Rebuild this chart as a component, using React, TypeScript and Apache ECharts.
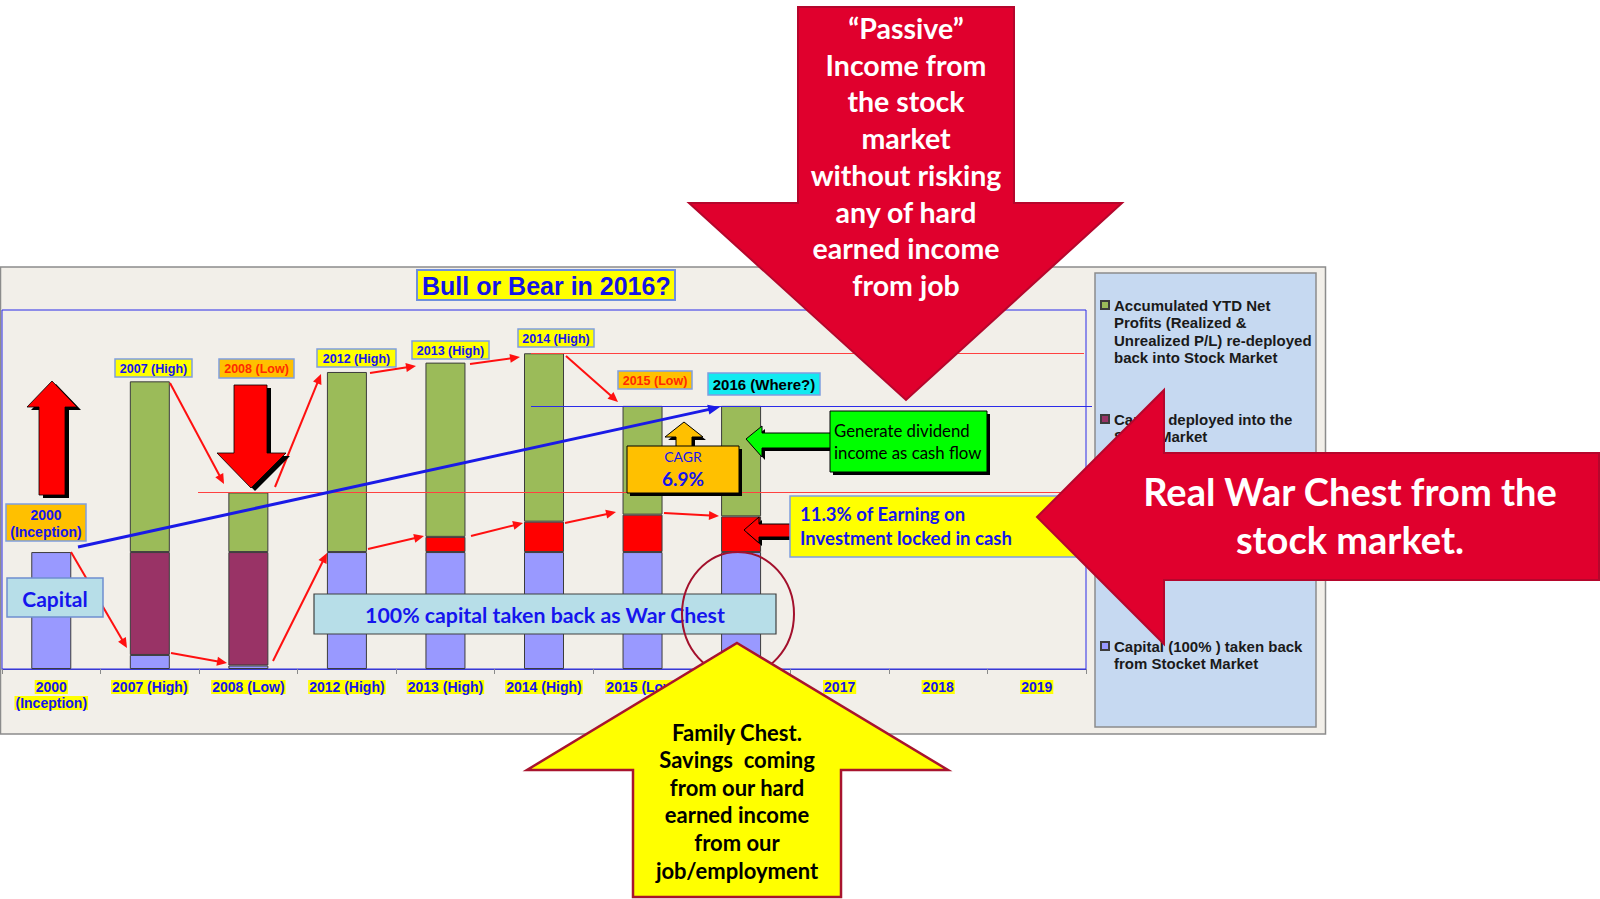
import React, { useEffect, useRef } from "react";
import * as echarts from "echarts";

// ---------------- data ----------------
const categories = [
  "2000\n(Inception)",
  "2007 (High)",
  "2008 (Low)",
  "2012 (High)",
  "2013 (High)",
  "2014 (High)",
  "2015 (Low)",
  "2016 (Where?)",
  "2017",
  "2018",
  "2019",
];
// values in % of initial capital
const capitalTakenBack = [100, 12, 3, 100, 100, 100, 100, 100, null, null, null];
const capitalDeployed = [null, 88, 97, null, null, null, null, null, null, null, null];
const cashLocked = [null, null, null, null, 13, 26, 32, 30.5, null, null, null];
const netProfits = [null, 146, 51, 154, 149, 144, 93, 94.5, null, null, null];

const nameGreen = "Accumulated YTD Net Profits (Realized & Unrealized P/L) re-deployed back into Stock Market";
const nameMaroon = "Capital deployed into the Stock Market";
const nameRed = "Earning on Investment locked in cash";
const nameBlue = "Capital (100% ) taken back from Stocket Market";

const legendLines: Record<string, string> = {
  [nameGreen]: "Accumulated YTD Net\nProfits (Realized &\nUnrealized P/L) re-deployed\nback into Stock Market",
  [nameMaroon]: "Capital deployed into the\nStock Market",
  [nameBlue]: "Capital (100% ) taken back\nfrom Stocket Market",
};

const titleText = "Bull or Bear in 2016?";
const cagrText = "6.9%";

// ---------------- helpers ----------------
const FA = '"Liberation Sans", Arial, sans-serif';
const FC = 'Lato, "Open Sans", sans-serif';
const BLUE_TXT = "#1515EE";
const Z_ANN = 10;
const Z_BIG = 20;
const LEG_LH = 17.5;

function arrowLine(x1: number, y1: number, x2: number, y2: number, color: string, w: number, hl: number, hw: number) {
  const dx = x2 - x1, dy = y2 - y1;
  const L = Math.hypot(dx, dy);
  const ux = dx / L, uy = dy / L;
  const bx = x2 - ux * hl, by = y2 - uy * hl;
  return [
    { type: "line", z: Z_ANN, silent: true, shape: { x1, y1, x2: bx + ux * 1, y2: by + uy * 1 }, style: { stroke: color, lineWidth: w } },
    {
      type: "polygon", z: Z_ANN, silent: true,
      shape: { points: [[x2, y2], [bx - uy * hw, by + ux * hw], [bx + uy * hw, by - ux * hw]] },
      style: { fill: color },
    },
  ];
}

function boxText(x: number, y: number, w: number, h: number, text: string, fill: string, stroke: string, color: string, font: { size: number; weight?: string; family?: string; lh?: number }, sw = 1.5) {
  return [
    { type: "rect", z: Z_ANN, silent: true, shape: { x, y, width: w, height: h }, style: { fill, stroke, lineWidth: sw } },
    {
      type: "text", z: Z_ANN, silent: true, x: x + w / 2, y: y + h / 2 + 0.5,
      style: {
        text, fill: color, fontSize: font.size, fontWeight: font.weight || "bold", fontFamily: font.family || FA,
        lineHeight: font.lh || font.size + 2, align: "center", verticalAlign: "middle",
      },
    },
  ];
}

function poly(points: number[][], fill: string, stroke: string, lw: number, z: number, shadow?: number[]) {
  const els: any[] = [];
  if (shadow) {
    els.push({
      type: "polygon", z, silent: true,
      shape: { points: points.map((p) => [p[0] + shadow[0], p[1] + shadow[1]]) },
      style: { fill: "#000" },
    });
  }
  els.push({ type: "polygon", z, silent: true, shape: { points }, style: { fill, stroke, lineWidth: lw } });
  return els;
}

function buildOption() {
  const totals = categories.map((_, i) =>
    [capitalTakenBack, capitalDeployed, cashLocked, netProfits].reduce((s, a) => s + (a[i] || 0), 0)
  );

  const barBase = { type: "bar", stack: "total", barWidth: 40 };
  const border = { borderColor: "#3C3C3C", borderWidth: 1 };

  const graphic: any[] = [];
  // chart frame
  graphic.push({ type: "rect", z: -1, silent: true, shape: { x: 0.5, y: 267, width: 1325, height: 467 }, style: { fill: "#F2EFE9", stroke: "#8C8C8C", lineWidth: 1.5 } });
  // legend panel
  graphic.push({ type: "rect", z: 1, silent: true, shape: { x: 1095, y: 273, width: 221, height: 454 }, style: { fill: "#C6D9F1", stroke: "#8C8C8C", lineWidth: 1.5 } });

  // blue trend arrow
  graphic.push(...arrowLine(78, 547, 720, 407, "#1A1AE6", 3, 12, 5));

  // red thin arrows
  const reds = [
    [170, 383, 224, 484], [275, 487, 321, 374], [370, 373, 416, 366], [470, 364, 520, 357],
    [71, 552, 127, 648], [171, 653, 227, 663], [273, 661, 327, 553], [368, 549, 424, 536],
    [471, 536, 523, 523], [566, 356, 618, 402], [565, 523, 616, 512], [664, 513, 719, 516],
  ];
  reds.forEach((r) => graphic.push(...arrowLine(r[0], r[1], r[2], r[3], "#FF1010", 2, 10, 4.5)));

  // big red up arrow (left)
  graphic.push(...poly([[52, 381], [77, 407], [65, 407], [65, 495], [39, 495], [39, 407], [27, 407]], "#FF0000", "#000", 0.8, Z_ANN, [4, 3]));
  // big red down arrow (2008)
  graphic.push(...poly([[234, 385], [267, 385], [267, 453], [286, 453], [251, 488], [217, 453], [234, 453]], "#FF0000", "#000", 0.8, Z_ANN, [4, 3]));

  // labels above bars
  const Y = "#FFFF00", O = "#FFC000", LB = "#7F9FDF";
  graphic.push(...boxText(6, 504, 80, 37, "2000\n(Inception)", O, LB, BLUE_TXT, { size: 14, lh: 17 }));
  graphic.push(...boxText(115, 359, 77, 18, categories[1], Y, LB, BLUE_TXT, { size: 12.5 }));
  graphic.push(...boxText(219, 359, 75, 19, categories[2], O, LB, "#FF2A00", { size: 12.5 }));
  graphic.push(...boxText(317, 349, 79, 18, categories[3], Y, LB, BLUE_TXT, { size: 12.5 }));
  graphic.push(...boxText(412, 341, 77, 18, categories[4], Y, LB, BLUE_TXT, { size: 12.5 }));
  graphic.push(...boxText(518, 329, 76, 18, categories[5], Y, LB, BLUE_TXT, { size: 12.5 }));
  graphic.push(...boxText(618, 371, 74, 18, categories[6], O, LB, "#FF2A00", { size: 12.5 }));
  graphic.push(...boxText(708, 373, 112, 22, categories[7], "#12EAF0", LB, "#000", { size: 15 }));

  // Capital box & war chest box
  graphic.push(...boxText(7, 578, 96, 39, "Capital", "#B7DEE8", "#6F8FCF", BLUE_TXT, { size: 21, family: FC }));
  graphic.push(...boxText(314, 594, 462, 40, "100% capital taken back as War Chest", "#B7DEE8", "#404040", BLUE_TXT, { size: 21.3, family: FC }, 1.2));

  // ellipse
  graphic.push({ type: "ellipse", z: Z_ANN, silent: true, shape: { cx: 738, cy: 614, rx: 56, ry: 62 }, style: { fill: "none", stroke: "#A3102C", lineWidth: 2 } });

  // CAGR
  graphic.push(...poly([[684, 422], [703, 437], [692, 437], [692, 447], [676, 447], [676, 437], [665, 437]], "#FFC000", "#000", 1, Z_ANN, [3, 3]));
  graphic.push({ type: "rect", z: Z_ANN, silent: true, shape: { x: 630, y: 449, width: 112, height: 47 }, style: { fill: "#000" } });
  graphic.push({ type: "rect", z: Z_ANN, silent: true, shape: { x: 627, y: 446, width: 112, height: 47 }, style: { fill: "#FFC000", stroke: "#000", lineWidth: 1 } });
  graphic.push({ type: "text", z: Z_ANN, silent: true, x: 683, y: 456, style: { text: "CAGR", fill: BLUE_TXT, fontSize: 14, fontFamily: FC, align: "center", verticalAlign: "middle" } });
  graphic.push({ type: "text", z: Z_ANN, silent: true, x: 683, y: 478, style: { text: cagrText, fill: BLUE_TXT, fontSize: 19, fontWeight: "bold", fontFamily: FC, align: "center", verticalAlign: "middle" } });

  // green callout
  graphic.push(...poly([[746, 439], [762, 426], [762, 433], [831, 433], [831, 448], [762, 448], [762, 457]], "#00FF00", "#000", 1, Z_ANN, [3, 3]));
  graphic.push({ type: "rect", z: Z_ANN, silent: true, shape: { x: 833, y: 414, width: 157, height: 61 }, style: { fill: "#000" } });
  graphic.push({ type: "rect", z: Z_ANN, silent: true, shape: { x: 830, y: 411, width: 157, height: 61 }, style: { fill: "#00FF00", stroke: "#000", lineWidth: 1 } });
  graphic.push({ type: "text", z: Z_ANN, silent: true, x: 834, y: 441, style: { text: "Generate dividend\nincome as cash flow", fill: "#000", fontSize: 16.8, fontFamily: FC, lineHeight: 22, align: "left", verticalAlign: "middle" } });

  // yellow callout
  graphic.push(...poly([[744, 530], [759, 517], [759, 524], [791, 524], [791, 537], [759, 537], [759, 543]], "#FF0000", "#000", 1, Z_ANN, [3, 3]));
  graphic.push({ type: "rect", z: Z_ANN, silent: true, shape: { x: 790, y: 496, width: 300, height: 61 }, style: { fill: "#FFFF00", stroke: LB, lineWidth: 1.5 } });
  graphic.push({ type: "text", z: Z_ANN, silent: true, x: 800, y: 526, style: { text: "11.3% of Earning on\nInvestment locked in cash", fill: BLUE_TXT, fontSize: 18.5, fontWeight: "bold", fontFamily: FC, lineHeight: 24, align: "left", verticalAlign: "middle" } });

  // big top arrow
  graphic.push(...poly([[798, 7], [1014, 7], [1014, 203], [1122, 203], [906, 400], [689, 203], [798, 203]], "#E0002D", "#B5062C", 2, Z_BIG));
  graphic.push({
    type: "text", z: Z_BIG, silent: true, x: 906, y: 156.5,
    style: {
      text: "\u201CPassive\u201D\nIncome from\nthe stock\nmarket\nwithout risking\nany of hard\nearned income\nfrom job",
      fill: "#FFFFFF", fontSize: 28.5, fontWeight: "bold", fontFamily: FC, lineHeight: 36.7, align: "center", verticalAlign: "middle",
    },
  });
  // big right arrow
  graphic.push(...poly([[1037, 517], [1164, 390], [1164, 453], [1599, 453], [1599, 580], [1164, 580], [1164, 644]], "#E0002D", "#B5062C", 2, Z_BIG));
  graphic.push({
    type: "text", z: Z_BIG, silent: true, x: 1350, y: 515,
    style: { text: "Real War Chest from the\nstock market.", fill: "#FFFFFF", fontSize: 38, fontWeight: "bold", fontFamily: FC, lineHeight: 48, align: "center", verticalAlign: "middle" },
  });
  // big bottom arrow
  graphic.push(...poly([[737, 643], [948, 770], [841, 770], [841, 897], [633, 897], [633, 770], [527, 770]], "#FFFF00", "#A8142E", 2.5, Z_BIG));
  graphic.push({
    type: "text", z: Z_BIG, silent: true, x: 737, y: 801,
    style: {
      text: "Family Chest.\nSavings  coming\nfrom our hard\nearned income\nfrom our\njob/employment",
      fill: "#000", fontSize: 22, fontWeight: "bold", fontFamily: FC, lineHeight: 27.6, align: "center", verticalAlign: "middle",
    },
  });

  // legend: icon square aligned with the first text line (tall invisible icon box)
  const legendIcon = (n: number) => {
    const H = n * LEG_LH;
    const c = LEG_LH / 2;
    return `path://M0 0L0 0M0 ${c - 4}H8V${c + 4}H0Z M0 ${H}L0 ${H}`;
  };
  const legendBase = (name: string, top: number, nLines: number) => ({
    data: [name],
    orient: "vertical",
    left: 1100,
    top,
    padding: 0,
    icon: legendIcon(nLines),
    itemWidth: 8,
    itemHeight: nLines * LEG_LH,
    selectedMode: false,
    formatter: (n: string) => legendLines[n] || n,
    textStyle: { fontFamily: FA, fontSize: 15, fontWeight: "bold", color: "#1A1A1A", lineHeight: LEG_LH },
  });

  return {
    animation: false,
    backgroundColor: "#FFFFFF",
    title: {
      text: titleText,
      left: 417,
      top: 270,
      padding: [3, 5, 2, 5],
      backgroundColor: "#FFFF00",
      borderColor: "#6F8FDD",
      borderWidth: 2,
      textStyle: { fontFamily: FA, fontSize: 25, fontWeight: "bold", color: "#1414E6" },
    },
    legend: [
      legendBase(nameGreen, 295.25, 4),
      legendBase(nameMaroon, 409.25, 2),
      legendBase(nameBlue, 636.25, 2),
    ],
    grid: {
      left: 2, top: 310, width: 1084, height: 359,
      show: true, borderColor: "#2B2BE8", borderWidth: 1, backgroundColor: "transparent",
    },
    xAxis: {
      type: "category",
      data: categories,
      axisLine: { lineStyle: { color: "#3A3AD0", width: 1 } },
      axisTick: { show: true, length: 5, lineStyle: { color: "#8A8A8A" } },
      axisLabel: {
        interval: 0,
        margin: 10,
        formatter: (v: string) => v.split("\n").map((s) => `{h|${s}}`).join("\n"),
        rich: {
          h: { backgroundColor: "#FFFF00", color: BLUE_TXT, fontWeight: "bold", fontSize: 14, fontFamily: FA, lineHeight: 16, padding: [0, 1] },
        },
      },
    },
    yAxis: { type: "value", min: 0, max: 307, show: false, splitLine: { show: false } },
    series: [
      { ...barBase, name: nameBlue, data: capitalTakenBack, itemStyle: { color: "#9999FF", ...border } },
      { ...barBase, name: nameMaroon, data: capitalDeployed, itemStyle: { color: "#993366", ...border } },
      { ...barBase, name: nameRed, data: cashLocked, itemStyle: { color: "#FF0000", ...border } },
      {
        ...barBase, name: nameGreen, data: netProfits, itemStyle: { color: "#9BBB59", ...border },
        markLine: {
          silent: true,
          symbol: ["none", "none"],
          label: { show: false },
          data: [
            [{ x: 531, yAxis: totals[5], lineStyle: { color: "#FF4040", width: 1.2, type: "solid" } }, { x: 1084, yAxis: totals[5] }],
            [{ x: 531, yAxis: totals[6], lineStyle: { color: "#2B2BE8", width: 1.2, type: "solid" } }, { x: 1092, yAxis: totals[6] }],
            [{ x: 198, yAxis: totals[2], lineStyle: { color: "#FF4040", width: 1.2, type: "solid" } }, { x: 1084, yAxis: totals[2] }],
          ],
        },
      },
    ],
    graphic: { elements: graphic },
  };
}

export default function App() {
  const ref = useRef<HTMLDivElement>(null);
  useEffect(() => {
    if (!ref.current) return;
    const chart = echarts.init(ref.current, null, { renderer: "svg" });
    chart.setOption(buildOption() as any);
    return () => chart.dispose();
  }, []);
  return (
    <div
      ref={ref}
      style={{ position: "fixed", left: 0, top: 0, width: 1600, height: 899, background: "#fff" }}
    />
  );
}
